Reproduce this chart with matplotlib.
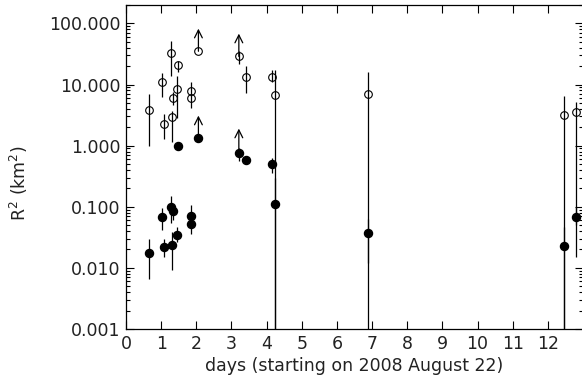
import numpy as np
import matplotlib
matplotlib.use("Agg")
from matplotlib import pyplot as plt
from matplotlib.ticker import FixedLocator, FormatStrFormatter, LogLocator, NullFormatter

# open circles (upper values)
open_x = [0.65, 1.01, 1.09, 1.29, 1.33, 1.32, 1.44, 1.49, 1.85, 1.85, 2.06, 3.21, 3.40, 4.15, 4.25, 6.89, 12.45, 12.81]
open_y = [3.9, 10.9, 2.3, 32.6, 6.1, 2.95, 8.4, 20.8, 7.8, 6.0, 35.0, 28.8, 13.5, 13.4, 6.8, 7.0, 3.2, 3.6]
open_lo = [1.0, 6.2, 1.3, 14.0, 4.6, 1.13, 2.8, 16.0, 6.6, 4.2, 35.0, 22.0, 7.2, 11.0, 1e-4, 1e-4, 1e-4, 0.015]
open_hi = [6.9, 15.5, 3.3, 52.0, 7.6, 3.7, 14.0, 24.5, 11.0, 7.0, 35.0, 36.0, 20.0, 17.0, 17.0, 15.9, 6.6, 5.1]

# filled circles
fill_x = [0.65, 1.01, 1.09, 1.29, 1.34, 1.32, 1.44, 1.85, 1.85, 1.48, 2.06, 3.21, 3.40, 4.15, 4.25, 6.89, 12.45, 12.81]
fill_y = [0.0178, 0.068, 0.022, 0.10, 0.085, 0.024, 0.035, 0.071, 0.052, 0.98, 1.34, 0.77, 0.58, 0.50, 0.11, 0.037, 0.023, 0.069]
fill_lo = [0.0065, 0.041, 0.015, 0.055, 0.06, 0.0091, 0.027, 0.055, 0.036, 0.9, 1.34, 0.56, 0.55, 0.36, 1e-4, 0.012, 1e-4, 0.05]
fill_hi = [0.0295, 0.095, 0.030, 0.15, 0.10, 0.038, 0.047, 0.107, 0.060, 1.08, 1.34, 0.93, 0.62, 0.63, 0.3, 0.063, 0.046, 0.098]

# lower limits drawn as arrows: (x, from, to)
arrow_x = [2.06, 3.21, 2.06, 3.21]
arrow_from = [35.0, 28.8, 1.34, 0.77]
arrow_to = [82.0, 68.0, 3.1, 1.9]

plt.rcParams['font.family'] = 'DejaVu Sans'

fig = plt.figure(figsize=(5.82, 3.84), dpi=100)
ax = fig.add_axes([126 / 582, 1 - 329 / 384, 457 / 582, 324 / 384])

def err(y, lo, hi):
    y = np.array(y)
    return [y - np.array(lo), np.array(hi) - y]

ax.errorbar(open_x, open_y, yerr=err(open_y, open_lo, open_hi), fmt='o', ms=5.5,
            mfc='none', mec='black', mew=0.8, ecolor='black', elinewidth=0.9, capsize=0)
ax.errorbar(fill_x, fill_y, yerr=err(fill_y, fill_lo, fill_hi), fmt='o', ms=5.8,
            mfc='black', mec='black', ecolor='black', elinewidth=0.9, capsize=0)

for x, y0, y1 in zip(arrow_x, arrow_from, arrow_to):
    ax.annotate('', xy=(x, y1), xytext=(x, y0),
                arrowprops=dict(arrowstyle='->', lw=0.9, color='black',
                                mutation_scale=14, shrinkA=0, shrinkB=0))

ax.set_yscale('log')
ax.set_xlim(0, 13)
ax.set_ylim(1e-3, 2e2)
ax.xaxis.set_major_locator(FixedLocator(range(0, 13)))
ax.yaxis.set_major_locator(FixedLocator([1e-3, 1e-2, 1e-1, 1, 10, 100]))
ax.yaxis.set_major_formatter(FormatStrFormatter('%.3f'))
ax.yaxis.set_minor_locator(LogLocator(base=10, subs=np.arange(2, 10), numticks=20))
ax.yaxis.set_minor_formatter(NullFormatter())

ax.tick_params(which='both', direction='in', top=True, right=True, width=0.8,
               labelcolor='#222222')
ax.tick_params(which='major', length=6, labelsize=12.5, pad=4)
ax.tick_params(which='minor', length=3)
for s in ax.spines.values():
    s.set_linewidth(0.9)

ax.set_xlabel('days (starting on 2008 August 22)', fontsize=12.5, labelpad=3, color='#222222')
ax.set_ylabel('R$^2$ (km$^2$)', fontsize=12.5, color='#222222')
ax.yaxis.set_label_coords(-0.21, 0.45)

fig.savefig('out.png', dpi=100)
